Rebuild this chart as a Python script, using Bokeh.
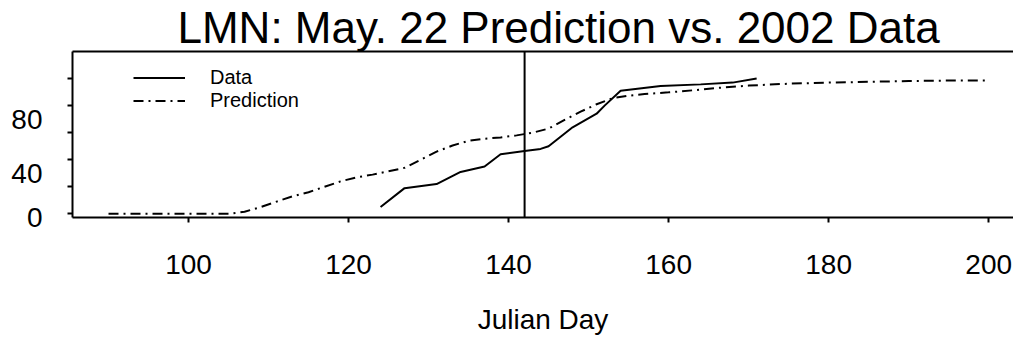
from bokeh.plotting import figure
from bokeh.models import (Range1d, FixedTicker, LinearAxis, Span, Legend, LegendItem)
from bokeh.embed import file_html
from bokeh.resources import INLINE

title_text = "LMN: May. 22 Prediction vs. 2002 Data"
x_label = "Julian Day"
prediction_day = 142

data_days = [124, 127, 131, 134, 137, 139, 142, 144, 145, 148, 151, 152, 154, 159, 164, 168, 171]
data_vals = [5, 19, 22, 31, 35, 44, 46.5, 48, 50, 64, 74, 80, 91, 94.5, 95.7, 97, 100]

pred_days = [90, 95, 100, 105, 107, 109, 111, 113, 115, 117, 119, 121, 123, 125, 127, 129,
             131, 133, 135, 137, 139, 141, 143, 145, 147, 149, 151, 153, 155, 157, 160, 163,
             166, 170, 175, 180, 185, 190, 195, 200]
pred_vals = [0, 0, 0, 0, 1.5, 5, 9, 13, 16, 20, 24, 27, 29, 31.5, 34, 40,
             46, 50.5, 54, 55.5, 56.5, 58, 60, 63, 69.5, 75.5, 81, 85.5, 87.3, 88.5, 89.8, 91.3,
             93, 94.8, 96.2, 97, 97.6, 98.2, 98.5, 98.6]

x_ticks = [100, 120, 140, 160, 180, 200]
y_ticks = [0, 20, 40, 60, 80, 100]
y_labeled = [0, 40, 80]
y_label_text = ["0", "40", "80"]

FONT = "Liberation Sans"
X0, X1 = 85.5, 203.1
Y0, Y1 = -2.7, 120.0
W, H = 1013, 340
B_LEFT, B_TOP, B_BOTTOM = 72, 47, 123
px_y = (Y1 - Y0) / (H - B_TOP - B_BOTTOM)
LABEL_SHIFT = 14 * px_y  # y labels sit ~14px below their ticks in the reference

# label positions: shifted below each tick, but kept inside the axis span
label_pos = [max(v - LABEL_SHIFT, Y0 + 0.05) for v in y_labeled]

p = figure(width=W, height=H, output_backend="svg", toolbar_location=None,
           x_range=Range1d(X0, X1), y_range=Range1d(Y0, Y1),
           min_border_left=B_LEFT, min_border_right=0, min_border_top=B_TOP,
           min_border_bottom=B_BOTTOM,
           background_fill_color="white", border_fill_color="white")
p.outline_line_color = None
p.xgrid.visible = False
p.ygrid.visible = False

# title
p.title.text = title_text
p.title.text_font = FONT
p.title.text_font_size = "44px"
p.title.text_font_style = "normal"
p.title.text_color = "black"
p.title.align = "left"
p.title.offset = 105
p.title.standoff = 0
p.title.text_line_height = 0.7

# x axis
xa = p.xaxis[0]
xa.ticker = FixedTicker(ticks=x_ticks)
xa.minor_tick_line_color = None
xa.major_tick_in = 0
xa.major_tick_out = 5
xa.major_tick_line_width = 2
xa.axis_line_width = 2
xa.major_label_text_font = FONT
xa.major_label_text_font_size = "28px"
xa.major_label_text_color = "black"
xa.major_label_standoff = 32
xa.axis_label = x_label
xa.axis_label_text_font = FONT
xa.axis_label_text_font_size = "28px"
xa.axis_label_text_font_style = "normal"
xa.axis_label_text_color = "black"
xa.axis_label_standoff = 27

# y axis: ticks only
ya = p.yaxis[0]
ya.ticker = FixedTicker(ticks=y_ticks)
ya.minor_tick_line_color = None
ya.major_tick_in = 0
ya.major_tick_out = 5
ya.major_tick_line_width = 2
ya.axis_line_width = 2
ya.major_label_standoff = 0
ya.major_label_overrides = {t: "" for t in y_ticks}

# y labels: a second, line-less axis whose labels sit just below the ticks
ylab = LinearAxis(ticker=FixedTicker(ticks=label_pos),
                  axis_line_color=None, major_tick_line_color=None,
                  minor_tick_line_color=None, major_tick_out=0, major_tick_in=0,
                  major_label_standoff=25, major_label_text_font=FONT,
                  major_label_text_font_size="28px", major_label_text_color="black",
                  major_label_overrides={pos: txt for pos, txt in zip(label_pos, y_label_text)})
p.add_layout(ylab, "left")

# top border line
top_axis = LinearAxis(ticker=FixedTicker(ticks=[]), major_tick_out=0, major_tick_in=0,
                      minor_tick_out=0, minor_tick_in=0, axis_line_width=2,
                      major_label_standoff=0, major_label_text_font_size="0px")
p.add_layout(top_axis, "above")

r_data = p.line(data_days, data_vals, line_color="black", line_width=2)
r_pred = p.line(pred_days, pred_vals, line_color="black", line_width=2, line_dash="10 5 2 5")

p.add_layout(Span(location=prediction_day, dimension="height", line_color="black", line_width=2))

legend = Legend(items=[LegendItem(label="Data", renderers=[r_data]),
                       LegendItem(label="Prediction", renderers=[r_pred])],
                location=(61, 105), padding=0, margin=0, spacing=0,
                glyph_width=52, glyph_height=23, label_height=23, label_standoff=25,
                label_text_font=FONT, label_text_font_size="20px", label_text_color="black",
                border_line_color=None, background_fill_alpha=0)
p.add_layout(legend)

open("out.html", "w").write(file_html(p, INLINE))
